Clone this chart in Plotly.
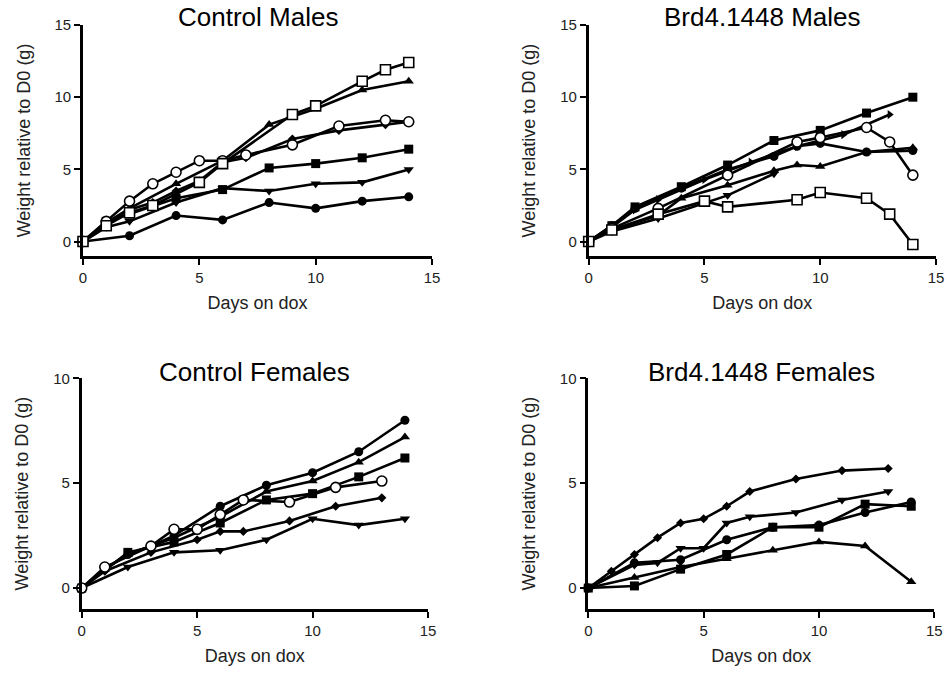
import plotly.graph_objects as go

# ---------------- Data (days on dox, weight change relative to D0, g) ----------------
# Control Males
CM_CIRC_X = [0, 2, 4, 6, 8, 10, 12, 14]
CM_CIRC_Y = [0, 0.4, 1.8, 1.5, 2.7, 2.3, 2.8, 3.1]
CM_SQR_X = [0, 1, 2, 4, 6, 8, 10, 12, 14]
CM_SQR_Y = [0, 1.4, 1.9, 3.0, 3.6, 5.1, 5.4, 5.8, 6.4]
CM_TDN_X = [0, 1, 2, 4, 6, 8, 10, 12, 14]
CM_TDN_Y = [0, 1.0, 1.4, 2.7, 3.7, 3.5, 4.0, 4.1, 5.0]
CM_OCIRC_X = [0, 1, 2, 3, 4, 5, 6, 7, 9, 11, 13, 14]
CM_OCIRC_Y = [0, 1.4, 2.8, 4.0, 4.8, 5.6, 5.6, 6.0, 6.7, 8.0, 8.4, 8.3]
CM_DIA_X = [0, 1, 2, 3, 4, 5, 6, 7, 9, 11, 13, 14]
CM_DIA_Y = [0, 1.2, 2.2, 2.7, 3.5, 4.2, 5.5, 5.8, 7.1, 7.7, 8.1, 8.3]
CM_TUP_X = [0, 1, 2, 4, 6, 8, 10, 12, 14]
CM_TUP_Y = [0, 1.3, 2.3, 4.0, 5.6, 8.1, 9.2, 10.5, 11.1]
CM_OSQR_X = [0, 1, 2, 3, 5, 6, 9, 10, 12, 13, 14]
CM_OSQR_Y = [0, 1.1, 2.0, 2.5, 4.1, 5.4, 8.8, 9.4, 11.1, 11.9, 12.4]

# Brd4.1448 Males
BM_SQR_X = [0, 1, 2, 4, 6, 8, 10, 12, 14]
BM_SQR_Y = [0, 1.1, 2.4, 3.8, 5.3, 7.0, 7.7, 8.9, 10.0]
BM_TRT_X = [0, 1, 2, 3, 5, 7, 9, 11, 13]
BM_TRT_Y = [0, 1.0, 2.2, 2.9, 4.3, 5.5, 6.6, 7.4, 8.8]
BM_CIRC_X = [0, 1, 2, 4, 6, 8, 9, 10, 12, 14]
BM_CIRC_Y = [0, 1.1, 2.3, 3.7, 5.0, 5.9, 6.6, 6.8, 6.2, 6.3]
BM_OCIRC_X = [0, 1, 3, 6, 9, 10, 12, 13, 14]
BM_OCIRC_Y = [0, 0.9, 2.3, 4.6, 6.9, 7.2, 7.9, 6.9, 4.6]
BM_TUP_X = [0, 1, 3, 4, 6, 8, 9, 10, 12, 14]
BM_TUP_Y = [0, 0.8, 1.8, 3.0, 3.9, 4.9, 5.3, 5.2, 6.2, 6.5]
BM_TDN_X = [0, 1, 3, 5, 6, 8]
BM_TDN_Y = [0, 0.7, 1.6, 2.7, 3.2, 4.7]
BM_OSQR_X = [0, 1, 3, 5, 6, 9, 10, 12, 13, 14]
BM_OSQR_Y = [0, 0.8, 1.9, 2.8, 2.4, 2.9, 3.4, 3.0, 1.9, -0.2]

# Control Females
CF_CIRC_X = [0, 1, 2, 3, 4, 6, 8, 10, 12, 14]
CF_CIRC_Y = [0, 0.9, 1.6, 2.0, 2.5, 3.9, 4.9, 5.5, 6.5, 8.0]
CF_TUP_X = [0, 1, 2, 4, 6, 8, 10, 12, 14]
CF_TUP_Y = [0, 0.9, 1.6, 2.4, 3.4, 4.6, 5.1, 6.0, 7.2]
CF_SQR_X = [0, 2, 4, 6, 8, 10, 12, 14]
CF_SQR_Y = [0, 1.7, 2.2, 3.1, 4.2, 4.5, 5.3, 6.2]
CF_OCIRC_X = [0, 1, 3, 4, 5, 6, 7, 9, 11, 13]
CF_OCIRC_Y = [0, 1.0, 2.0, 2.8, 2.8, 3.5, 4.2, 4.1, 4.8, 5.1]
CF_DIA_X = [0, 1, 3, 5, 6, 7, 9, 11, 13]
CF_DIA_Y = [0, 0.8, 1.7, 2.3, 2.7, 2.7, 3.2, 3.9, 4.3]
CF_TDN_X = [0, 2, 4, 6, 8, 10, 12, 14]
CF_TDN_Y = [0, 1.0, 1.7, 1.8, 2.3, 3.3, 3.0, 3.3]

# Brd4.1448 Females
BF_DIA_X = [0, 1, 2, 3, 4, 5, 6, 7, 9, 11, 13]
BF_DIA_Y = [0, 0.8, 1.6, 2.4, 3.1, 3.3, 3.9, 4.6, 5.2, 5.6, 5.7]
BF_TDN_X = [0, 2, 3, 4, 5, 6, 7, 9, 11, 13]
BF_TDN_Y = [0, 1.1, 1.2, 1.9, 1.9, 3.1, 3.4, 3.6, 4.2, 4.6]
BF_CIRC_X = [0, 2, 4, 6, 8, 10, 12, 14]
BF_CIRC_Y = [0, 1.2, 1.35, 2.3, 2.9, 3.0, 3.6, 4.1]
BF_SQR_X = [0, 2, 4, 6, 8, 10, 12, 14]
BF_SQR_Y = [0, 0.1, 0.9, 1.6, 2.9, 2.9, 4.0, 3.9]
BF_TUP_X = [0, 2, 4, 6, 8, 10, 12, 14]
BF_TUP_Y = [0, 0.5, 1.0, 1.4, 1.8, 2.2, 2.0, 0.3]

PANEL_TITLES = ["Control Males", "Brd4.1448 Males", "Control Females", "Brd4.1448 Females"]
X_TITLE = "Days on dox"
Y_TITLE = "Weight relative to D0 (g)"
X_TICKS = [0, 5, 10, 15]
Y_TICKS_MALE = [0, 5, 10, 15]
Y_TICKS_FEMALE = [0, 5, 10]

# ---------------- Styling ----------------
FONT = "Liberation Sans, Arial, Helvetica, sans-serif"
STYLES = {
    "circle": dict(symbol="circle", size=9, color="black", line=dict(width=0)),
    "square": dict(symbol="square", size=9, color="black", line=dict(width=0)),
    "tri_up": dict(symbol="triangle-up", size=9, color="black", line=dict(width=0)),
    "tri_down": dict(symbol="triangle-down", size=9, color="black", line=dict(width=0)),
    "tri_right": dict(symbol="triangle-right", size=8, color="black", line=dict(width=0)),
    "diamond": dict(symbol="diamond", size=7, color="black", line=dict(width=0)),
    "ocircle": dict(symbol="circle", size=10, color="white", line=dict(width=1.6, color="black")),
    "osquare": dict(symbol="square", size=10, color="white", line=dict(width=1.6, color="black")),
}

panels = [
    [(CM_CIRC_X, CM_CIRC_Y, "circle"), (CM_SQR_X, CM_SQR_Y, "square"),
     (CM_TDN_X, CM_TDN_Y, "tri_down"), (CM_DIA_X, CM_DIA_Y, "diamond"),
     (CM_TUP_X, CM_TUP_Y, "tri_up"), (CM_OCIRC_X, CM_OCIRC_Y, "ocircle"),
     (CM_OSQR_X, CM_OSQR_Y, "osquare")],
    [(BM_SQR_X, BM_SQR_Y, "square"), (BM_TRT_X, BM_TRT_Y, "tri_right"),
     (BM_CIRC_X, BM_CIRC_Y, "circle"), (BM_TUP_X, BM_TUP_Y, "tri_up"),
     (BM_TDN_X, BM_TDN_Y, "tri_down"), (BM_OCIRC_X, BM_OCIRC_Y, "ocircle"),
     (BM_OSQR_X, BM_OSQR_Y, "osquare")],
    [(CF_CIRC_X, CF_CIRC_Y, "circle"), (CF_TUP_X, CF_TUP_Y, "tri_up"),
     (CF_SQR_X, CF_SQR_Y, "square"), (CF_DIA_X, CF_DIA_Y, "diamond"),
     (CF_TDN_X, CF_TDN_Y, "tri_down"), (CF_OCIRC_X, CF_OCIRC_Y, "ocircle")],
    [(BF_DIA_X, BF_DIA_Y, "diamond"), (BF_TDN_X, BF_TDN_Y, "tri_down"),
     (BF_CIRC_X, BF_CIRC_Y, "circle"), (BF_SQR_X, BF_SQR_Y, "square"),
     (BF_TUP_X, BF_TUP_Y, "tri_up")],
]

W, H = 950, 674
# plot-area pixel boxes: (left, right, top, bottom)
boxes = [(83, 432, 25, 256), (588.7, 936, 25, 256),
         (81.7, 428, 378.3, 609), (588.3, 934.3, 378.3, 609)]
y_ranges = [[-1, 15], [-1, 15], [-1, 10], [-1, 10]]
y_ticks = [Y_TICKS_MALE, Y_TICKS_MALE, Y_TICKS_FEMALE, Y_TICKS_FEMALE]
title_y_px = [17, 17, 372, 372]

fig = go.Figure()
layout = dict(
    width=W, height=H,
    margin=dict(l=0, r=0, t=0, b=0),
    paper_bgcolor="white", plot_bgcolor="white",
    showlegend=False,
    font=dict(family=FONT, color="black"),
    annotations=[],
)

for i, series in enumerate(panels):
    n = "" if i == 0 else str(i + 1)
    for xs, ys, st in series:
        fig.add_trace(go.Scatter(
            x=xs, y=ys, mode="lines+markers",
            line=dict(color="black", width=2.6),
            marker=STYLES[st], cliponaxis=False,
            xaxis="x" + n, yaxis="y" + n, hoverinfo="x+y",
        ))
    l, r, t, b = boxes[i]
    layout["xaxis" + n] = dict(
        domain=[l / W, r / W], anchor="y" + n, range=[0, 15],
        tickvals=X_TICKS, ticks="outside", ticklen=6, tickwidth=2.2,
        showline=True, linewidth=2.6, linecolor="black", tickcolor="black",
        showgrid=False, zeroline=False, automargin=False,
        tickfont=dict(size=15, family=FONT, color="#222"),
        title=dict(text=X_TITLE, font=dict(size=18, family=FONT, color="#222"), standoff=12),
    )
    layout["yaxis" + n] = dict(
        domain=[1 - b / H, 1 - t / H], anchor="x" + n, range=y_ranges[i],
        tickvals=y_ticks[i], ticks="outside", ticklen=6, tickwidth=2.2,
        showline=True, linewidth=2.6, linecolor="black", tickcolor="black",
        showgrid=False, zeroline=False, automargin=False,
        tickfont=dict(size=15, family=FONT, color="#222"),
        title=dict(text=Y_TITLE, font=dict(size=18, family=FONT, color="#222"), standoff=20),
    )
    layout["annotations"].append(dict(
        text=PANEL_TITLES[i], xref="paper", yref="paper",
        x=(l + r) / 2 / W, y=1 - title_y_px[i] / H,
        xanchor="center", yanchor="middle", showarrow=False,
        font=dict(size=26, family=FONT, color="black"),
    ))

fig.update_layout(**layout)
fig.write_html("out.html", config={"displayModeBar": False},
               post_script="document.body.style.margin='0';")
